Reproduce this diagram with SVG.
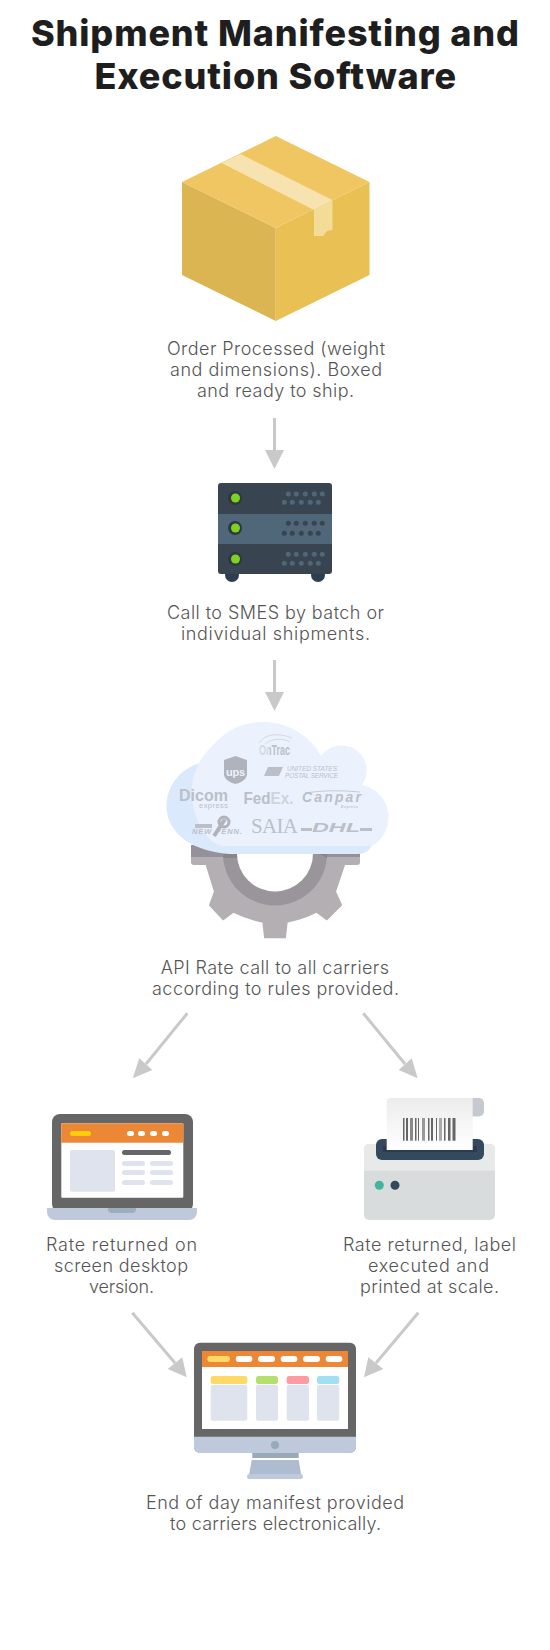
<svg xmlns="http://www.w3.org/2000/svg" width="550" height="1650" viewBox="0 0 550 1650">
<style>
.t{font-family:"Inter","Noto Sans",sans-serif;font-weight:800;font-size:36px;fill:#1e1e1e}
.l{font-family:"Inter","Noto Sans",sans-serif;font-weight:300;font-size:18px;fill:#555}
.a{fill:none;stroke:#c9c9c9;stroke-width:3}
.h{fill:#c9c9c9}
.logo{font-family:"Liberation Sans",sans-serif;fill:#bcbfc8}
</style>
<defs>
<linearGradient id="paper" x1="0" y1="0" x2="0" y2="1"><stop offset="0" stop-color="#ececec"/><stop offset="1" stop-color="#fff"/></linearGradient>
<linearGradient id="ontrac" gradientUnits="userSpaceOnUse" x1="259" y1="0" x2="290" y2="0"><stop offset="0.33" stop-color="#d5d8df"/><stop offset="0.33" stop-color="#bcbfc8"/></linearGradient>
</defs>
<rect width="550" height="1650" fill="#fff"/>
<g id="title">
<text class="t" x="31" y="46" textLength="488">Shipment Manifesting and</text>
<text class="t" x="94.500" y="88.500" textLength="361.500">Execution Software</text>
</g>
<g id="connectors">
<path class="a" d="M274.500 418V452"/><path class="h" d="M265 450H284L274.500 469Z"/>
<path class="a" d="M274.500 660V694"/><path class="h" d="M265 692H284L274.500 711Z"/>
<path class="a" d="M187.300 1013.300L146 1064"/><path class="h" d="M132.700 1078.300L139.300 1058.300L152.300 1070Z"/>
<path class="a" d="M363.300 1013.300L405 1064"/><path class="h" d="M417.700 1078.300L411.700 1058.300L398.700 1070Z"/>
<path class="a" d="M132.300 1312.700L175 1363"/><path class="h" d="M186.700 1377.300L182.300 1357.300L167.700 1369Z"/>
<path class="a" d="M418.300 1312.700L376 1363"/><path class="h" d="M364 1377.300L368.300 1357.300L383.300 1369Z"/>
</g>
<g id="box">
<path d="M182 182L275.750 228V321L182 275Z" fill="#dbb552"/>
<path d="M275.750 228L369.500 182V275L275.750 321Z" fill="#e8c053"/>
<path d="M275.750 136L369.500 182L275.750 228L182 182Z" fill="#efc661"/>
<path d="M221.500 163L240.500 154L332.500 200L314 210Z" fill="#f6e3af"/>
<path d="M314 210L332.500 200V230L327 231L323 236H314Z" fill="#f2dc97"/>
<text class="l" x="167" y="354.500" textLength="218">Order Processed (weight</text>
<text class="l" x="170" y="375.500" textLength="212">and dimensions). Boxed</text>
<text class="l" x="197" y="396.500" textLength="157">and ready to ship.</text>
</g>
<g id="server">
<circle cx="232" cy="575" r="7" fill="#2c3e50"/><circle cx="318" cy="575" r="7" fill="#2c3e50"/>
<rect x="218" y="483" width="114" height="91" rx="3" fill="#38444f"/>
<rect x="218" y="514" width="114" height="30" fill="#50677a"/>
<g fill="#2f3740"><circle cx="235" cy="498" r="7"/><circle cx="235" cy="528" r="7"/><circle cx="235" cy="559" r="7"/></g>
<g fill="#7ed321"><circle cx="235.500" cy="498" r="4.500"/><circle cx="235.500" cy="528" r="4.500"/><circle cx="235.500" cy="559" r="4.500"/></g>
<g fill="#50677a">
<circle cx="288.300" cy="494" r="2.500"/><circle cx="296.300" cy="494" r="2.500"/><circle cx="305.300" cy="494" r="2.500"/><circle cx="314.300" cy="494" r="2.500"/><circle cx="322.300" cy="494" r="2.500"/>
<circle cx="284.300" cy="502.300" r="2.500"/><circle cx="292.300" cy="502.300" r="2.500"/><circle cx="301.300" cy="502.300" r="2.500"/><circle cx="310.300" cy="502.300" r="2.500"/><circle cx="318.300" cy="502.300" r="2.500"/>
<circle cx="288.300" cy="554.300" r="2.500"/><circle cx="296.300" cy="554.300" r="2.500"/><circle cx="305.300" cy="554.300" r="2.500"/><circle cx="314.300" cy="554.300" r="2.500"/><circle cx="322.300" cy="554.300" r="2.500"/>
<circle cx="284.300" cy="563.300" r="2.500"/><circle cx="292.300" cy="563.300" r="2.500"/><circle cx="301.300" cy="563.300" r="2.500"/><circle cx="310.300" cy="563.300" r="2.500"/><circle cx="318.300" cy="563.300" r="2.500"/>
</g>
<g fill="#38444f">
<circle cx="288.300" cy="523.300" r="2.500"/><circle cx="296.300" cy="523.300" r="2.500"/><circle cx="305.300" cy="523.300" r="2.500"/><circle cx="314.300" cy="523.300" r="2.500"/><circle cx="322.300" cy="523.300" r="2.500"/>
<circle cx="284.300" cy="533.300" r="2.500"/><circle cx="292.300" cy="533.300" r="2.500"/><circle cx="301.300" cy="533.300" r="2.500"/><circle cx="310.300" cy="533.300" r="2.500"/><circle cx="318.300" cy="533.300" r="2.500"/>
</g>
<text class="l" x="167" y="618.500" textLength="217">Call to SMES by batch or</text>
<text class="l" x="181" y="639.500" textLength="189">individual shipments.</text>
</g>
<g id="carriers">
<path d="M206.700 865L215 891.700L210 905L223.300 919.300L233.300 911.700Q248 919 263.300 921.700L265 937.300H285L286.700 921.700Q302 919 316.700 911.700L326.700 919.300L341 905L335 891.700L344 865Z" fill="#b3afb3" stroke="#b3afb3" stroke-width="2" stroke-linejoin="round"/>
<rect x="191" y="845" width="169" height="20" rx="3" fill="#b3afb3"/>
<rect x="191" y="845" width="169" height="12" fill="#95909a"/>
<path d="M223 853.500A52 52 0 0 0 327 853.500H313A38 38 0 0 1 237 853.500Z" fill="#9a959a"/>
<path d="M223 850H237V858H223.300ZM313 850H327V858H326.700Z" fill="#8a858b"/>
<path d="M237 850V853.500A38 38 0 0 0 313 853.500V850Z" fill="#fff"/>
<path d="M230 854C195 852 166 835 166.500 805C167 780 188 762 212 761L300 800L372 845Q368 854 358 854Z" fill="#dbe9fc"/>
<path d="M222 846C205 842 191 815 192 790C192 770 203 755 213 745A66 66 0 0 1 321 756A24 24 0 0 1 362 785A33 33 0 0 1 372 846Z" fill="#ebf2fd"/>
<path d="M259 743C266 733 280 733 292 738M265 744C272 738 282 738 290 742" fill="none" stroke="#d5d8df" stroke-width="1"/>
<text x="259" y="755" font-size="14" font-weight="700" textLength="31" lengthAdjust="spacingAndGlyphs" fill="url(#ontrac)" style="font-family:'Liberation Sans',sans-serif">OnTrac</text>
<path d="M224 760L235.500 756L247 760V775C246 780 240 783 235.500 784C231 783 225 780 224 775Z" fill="#b0b3bc"/>
<text x="226" y="776" font-size="11" font-weight="700" fill="#ebf2fd" textLength="19" style="font-family:'Liberation Sans',sans-serif">ups</text>
<path d="M268 767H283L279 776H264Z" fill="#bcbfc8"/>
<text class="logo" x="287" y="770.500" font-size="6.500" font-style="italic" textLength="50">UNITED STATES</text>
<text class="logo" x="285" y="777.500" font-size="6.500" font-style="italic" textLength="53">POSTAL SERVICE</text>
<text class="logo" x="179" y="801" font-size="16" font-weight="700" textLength="49">Dicom</text>
<text class="logo" x="199" y="808" font-size="7.500" fill="#cdd0d8" textLength="29">express</text>
<text class="logo" x="243.500" y="804" font-size="17" font-weight="700" textLength="50" lengthAdjust="spacingAndGlyphs">Fed<tspan fill="#d0d3da">Ex.</tspan></text>
<text class="logo" x="302" y="802" font-size="14" font-weight="700" font-style="italic" textLength="59">Canpar</text>
<path d="M305 793Q330 789 360 792" fill="none" stroke="#bcbfc8" stroke-width="0.800"/>
<text class="logo" x="341" y="807.500" font-size="3.500" font-weight="700" font-style="italic" textLength="17">Express</text>
<text class="logo" x="192" y="834" font-size="7.500" font-weight="700" font-style="italic" textLength="50">NEW PENN.</text>
<path d="M195 826H212" stroke="#bcbfc8" stroke-width="4" fill="none"/>
<path d="M214 836L225 819" stroke="#b0b3bc" stroke-width="4" fill="none"/>
<circle cx="224" cy="822" r="5" fill="none" stroke="#b0b3bc" stroke-width="3"/>
<text x="251" y="833" font-size="21" fill="#bcbfc8" textLength="47" style="font-family:'Liberation Serif',serif">SAIA</text>
<text class="logo" x="312" y="832" font-size="12" font-weight="700" font-style="italic" textLength="48" lengthAdjust="spacingAndGlyphs">DHL</text>
<rect x="301" y="828" width="11" height="3" fill="#bcbfc8"/><rect x="360" y="828" width="12" height="3" fill="#bcbfc8"/>
<text class="l" x="160.700" y="974" textLength="228.300">API Rate call to all carriers</text>
<text class="l" x="152" y="995" textLength="247">according to rules provided.</text>
</g>
<g id="laptop">
<rect x="52" y="1114" width="141" height="98" rx="8" fill="#666"/>
<rect x="61.300" y="1123.300" width="122" height="74.400" rx="1" fill="#fff"/>
<rect x="61.300" y="1123.300" width="122" height="19.400" fill="#ec8735"/>
<rect x="70" y="1131" width="21" height="5" rx="2.500" fill="#ffce08"/>
<g fill="#fff"><rect x="127" y="1131" width="7" height="5" rx="2.500"/><rect x="138" y="1131" width="7" height="5" rx="2.500"/><rect x="150" y="1131" width="7" height="5" rx="2.500"/><rect x="162" y="1131" width="7" height="5" rx="2.500"/></g>
<rect x="70" y="1150" width="45" height="41.700" rx="2" fill="#dfe3ee"/>
<rect x="122" y="1150" width="49" height="5" rx="2.500" fill="#666"/>
<g fill="#dfe3ee"><rect x="122" y="1161" width="23" height="5" rx="2.500"/><rect x="150" y="1161" width="23" height="5" rx="2.500"/><rect x="122" y="1170" width="23" height="5" rx="2.500"/><rect x="150" y="1170" width="23" height="5" rx="2.500"/><rect x="122" y="1180" width="23" height="5" rx="2.500"/><rect x="150" y="1180" width="23" height="5" rx="2.500"/></g>
<path d="M47 1208H197V1212A8 8 0 0 1 189 1220H55A8 8 0 0 1 47 1212Z" fill="#bec9dc"/>
<path d="M108 1208H136V1209A4 4 0 0 1 132 1213H112A4 4 0 0 1 108 1209Z" fill="#9aaebf"/>
<text class="l" x="46" y="1251" textLength="151">Rate returned on</text>
<text class="l" x="54" y="1272" textLength="134">screen desktop</text>
<text class="l" x="89" y="1293" textLength="65">version.</text>
</g>
<g id="printer">
<rect x="364" y="1144" width="131" height="76" rx="5" fill="#d8dcdc"/>
<path d="M364 1170.700V1149A5 5 0 0 1 369 1144H490A5 5 0 0 1 495 1149V1170.700Z" fill="#e8eaea"/>
<rect x="376" y="1139" width="108" height="21" rx="6" fill="#34495e"/>
<rect x="382.700" y="1146" width="94.300" height="6" rx="1" fill="#2a3c4e"/>
<rect x="466" y="1098" width="18" height="18.500" rx="5" fill="#c6c9d0"/>
<path d="M386.700 1102A4 4 0 0 1 390.700 1098H472.700V1150H386.700Z" fill="url(#paper)"/>
<g fill="#666"><rect x="403" y="1118" width="1.500" height="22.700"/><rect x="406" y="1118" width="2" height="22.700"/><rect x="410" y="1118" width="3" height="22.700" fill="#888"/><rect x="415" y="1118" width="1.500" height="22.700"/><rect x="418" y="1118" width="1" height="22.700"/><rect x="422" y="1118" width="3" height="22.700" fill="#999"/><rect x="428" y="1118" width="1.500" height="22.700"/><rect x="431" y="1118" width="2" height="22.700"/><rect x="436" y="1118" width="1" height="22.700"/><rect x="439" y="1118" width="3" height="22.700" fill="#aaa"/><rect x="444" y="1118" width="1.500" height="22.700"/><rect x="448" y="1118" width="2.500" height="22.700"/><rect x="452.500" y="1118" width="3" height="22.700"/></g>
<circle cx="379.300" cy="1185.300" r="4.500" fill="#3fb5a0"/><circle cx="395" cy="1185.300" r="4.500" fill="#34495e"/>
<text class="l" x="343" y="1251" textLength="173">Rate returned, label</text>
<text class="l" x="368" y="1272" textLength="121">executed and</text>
<text class="l" x="360" y="1293" textLength="139">printed at scale.</text>
</g>
<g id="monitor">
<rect x="194" y="1342.700" width="162" height="110" rx="6" fill="#666"/>
<path d="M194 1436.700H356V1447A6 6 0 0 1 350 1453H200A6 6 0 0 1 194 1447Z" fill="#bec9dc"/>
<rect x="202" y="1351" width="146" height="78" fill="#fff"/>
<rect x="202" y="1351" width="146" height="16" fill="#ec8735"/>
<rect x="207.300" y="1356" width="22.700" height="6" rx="3" fill="#ffd966"/>
<g fill="#fff"><rect x="235.700" y="1356" width="16.700" height="6" rx="3"/><rect x="258" y="1356" width="17" height="6" rx="3"/><rect x="280.700" y="1356" width="16.700" height="6" rx="3"/><rect x="303" y="1356" width="17" height="6" rx="3"/><rect x="325.700" y="1356" width="16.700" height="6" rx="3"/></g>
<rect x="210.700" y="1376" width="36.600" height="8" rx="2.500" fill="#ffd966"/><rect x="256" y="1376" width="22" height="8" rx="2.500" fill="#b5e06f"/><rect x="286.700" y="1376" width="22.300" height="8" rx="2.500" fill="#ff9a9f"/><rect x="317" y="1376" width="22.300" height="8" rx="2.500" fill="#a3dff2"/>
<g fill="#dfe3ee"><rect x="210.700" y="1385" width="36.600" height="35.700" rx="2"/><rect x="256" y="1385" width="22" height="35.700" rx="2"/><rect x="286.700" y="1385" width="22.300" height="35.700" rx="2"/><rect x="317" y="1385" width="22.300" height="35.700" rx="2"/></g>
<circle cx="275" cy="1445" r="4" fill="#97a9ba"/>
<rect x="252.300" y="1453" width="46.400" height="5" fill="#97a9ba"/>
<path d="M251.700 1460H298.700L301 1474H249.300Z" fill="#aebbd0"/>
<rect x="247" y="1474" width="56" height="5" rx="2.500" fill="#bec9dc"/>
<text class="l" x="146" y="1509" textLength="258">End of day manifest provided</text>
<text class="l" x="170" y="1530" textLength="211">to carriers electronically.</text>
</g>
</svg>
